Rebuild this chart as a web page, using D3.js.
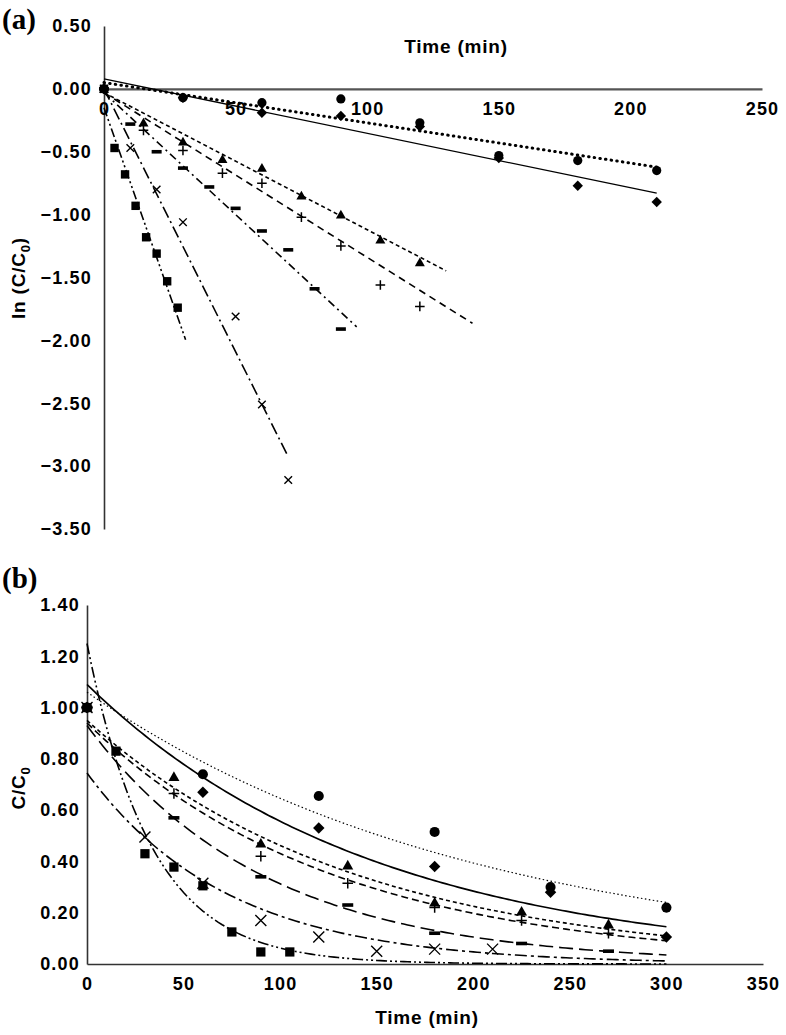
<!DOCTYPE html>
<html><head><meta charset="utf-8">
<script src="https://cdn.jsdelivr.net/npm/d3@7"></script>
<style>
body{margin:0;background:#fff;}
svg{display:block;}
.tick text{font-family:"Liberation Sans",Arial,sans-serif;font-weight:bold;font-size:18px;letter-spacing:1.2px;fill:#000;}
.title{font-family:"Liberation Sans",Arial,sans-serif;font-weight:bold;font-size:19px;letter-spacing:0.8px;fill:#000;}
.panel{font-family:"Liberation Serif","Times New Roman",serif;font-weight:bold;font-size:29px;fill:#000;}
</style></head><body>
<svg id="chart" width="786" height="1035"></svg>
<script>
// ---------- Panel (a): ln(C/C0) vs time ----------
const xTicksA = [0, 50, 100, 150, 200, 250];
const yTicksA = [0.5, 0, -0.5, -1.0, -1.5, -2.0, -2.5, -3.0, -3.5];

const tA_circle = [0, 30, 60, 90, 120, 150, 180, 210];
const lnA_circle = [0, -0.07, -0.11, -0.08, -0.27, -0.53, -0.57, -0.65];
const tA_diamond = [0, 30, 60, 90, 120, 150, 180, 210];
const lnA_diamond = [0, -0.07, -0.19, -0.215, -0.30, -0.55, -0.77, -0.90];
const tA_triangle = [0, 15, 30, 45, 60, 75, 90, 105, 120];
const lnA_triangle = [0, -0.27, -0.42, -0.56, -0.63, -0.85, -1.0, -1.2, -1.38];
const tA_plus = [0, 15, 30, 45, 60, 75, 90, 105, 120];
const lnA_plus = [0, -0.33, -0.49, -0.67, -0.75, -1.02, -1.25, -1.56, -1.73];
const tA_dash = [0, 10, 20, 30, 40, 50, 60, 70, 80, 90];
const lnA_dash = [0, -0.28, -0.50, -0.63, -0.78, -0.95, -1.13, -1.28, -1.59, -1.91];
const tA_cross = [0, 10, 20, 30, 50, 60, 70];
const lnA_cross = [0, -0.47, -0.80, -1.06, -1.81, -2.51, -3.11];
const tA_square = [0, 4, 8, 12, 16, 20, 24, 28];
const lnA_square = [0, -0.47, -0.68, -0.93, -1.18, -1.31, -1.53, -1.74];

// linear fits: [intercept, slope, tEnd]
const fitA_circle = [0.05, -0.0032, 210];
const fitA_diamond = [0.08, -0.00433, 210];
const fitA_triangle = [-0.03, -0.0109, 130];
const fitA_plus = [-0.03, -0.0131, 140];
const fitA_dash = [-0.03, -0.0194, 96];
const fitA_cross = [0.0, -0.0418, 69.5];
const fitA_square = [-0.15, -0.0595, 31];

// ---------- Panel (b): C/C0 vs time ----------
const xTicksB = [0, 50, 100, 150, 200, 250, 300, 350];
const yTicksB = [0, 0.2, 0.4, 0.6, 0.8, 1.0, 1.2, 1.4];

const tB_circle = [0, 60, 120, 180, 240, 300];
const cB_circle = [1, 0.74, 0.655, 0.515, 0.30, 0.22];
const tB_diamond = [0, 60, 120, 180, 240, 300];
const cB_diamond = [1, 0.67, 0.53, 0.38, 0.28, 0.105];
const tB_triangle = [0, 45, 90, 135, 180, 225, 270];
const cB_triangle = [1, 0.73, 0.47, 0.385, 0.24, 0.205, 0.155];
const tB_plus = [0, 45, 90, 135, 180, 225, 270];
const cB_plus = [1, 0.665, 0.42, 0.315, 0.22, 0.17, 0.12];
const tB_dash = [0, 45, 90, 135, 180, 225, 270];
const cB_dash = [1, 0.57, 0.34, 0.23, 0.12, 0.08, 0.05];
const tB_cross = [0, 30, 60, 90, 120, 150, 180, 210];
const cB_cross = [1, 0.495, 0.315, 0.17, 0.105, 0.05, 0.058, 0.058];
const tB_square = [0, 15, 30, 45, 60, 75, 90, 105];
const cB_square = [1, 0.83, 0.43, 0.378, 0.305, 0.125, 0.047, 0.047];

// exponential fits: [A, k]  (C = A * exp(-k t)), t from 0 to 300
const fitB_circle = [1.06, 0.00495];
const fitB_diamond = [1.09, 0.00672];
const fitB_triangle = [0.95, 0.0072];
const fitB_plus = [0.94, 0.0078];
const fitB_dash = [0.93, 0.0109];
const fitB_cross = [0.745, 0.0138];
const fitB_square = [1.25, 0.0300];
const fitB_tEnd = 300;

// ---------- drawing ----------
const svg = d3.select("#chart");

function marker(g, type, x, y, big) {
  const s = big ? 1.1 : 1;
  if (type === "circle") {
    g.append("circle").attr("cx", x).attr("cy", y).attr("r", 4.6 * s).attr("fill", "#000");
  } else if (type === "diamond") {
    const r = 5.2 * s;
    g.append("path").attr("d", `M${x},${y - r}L${x + r},${y}L${x},${y + r}L${x - r},${y}Z`).attr("fill", "#000");
  } else if (type === "triangle") {
    const r = 5 * s;
    g.append("path").attr("d", `M${x},${y - r}L${x + r},${y + r * 0.75}L${x - r},${y + r * 0.75}Z`).attr("fill", "#000");
  } else if (type === "square") {
    const r = 4.2 * s;
    g.append("rect").attr("x", x - r).attr("y", y - r).attr("width", 2 * r).attr("height", 2 * r).attr("fill", "#000");
  } else if (type === "plus") {
    const r = 4.8 * s;
    g.append("path").attr("d", `M${x - r},${y}H${x + r}M${x},${y - r}V${y + r}`).attr("stroke", "#000").attr("stroke-width", 1.5);
  } else if (type === "cross") {
    const r = (big ? 5.5 : 3.8);
    g.append("path").attr("d", `M${x - r},${y - r}L${x + r},${y + r}M${x - r},${y + r}L${x + r},${y - r}`).attr("stroke", "#000").attr("stroke-width", 1.4);
  } else if (type === "dash") {
    const w = 5 * s;
    g.append("rect").attr("x", x - w).attr("y", y - 1.8).attr("width", 2 * w).attr("height", 3.6).attr("fill", "#000");
  }
}

// ===== Panel (a) =====
const xA = d3.scaleLinear().domain([0, 250]).range([104, 762]);
const yA = d3.scaleLinear().domain([0.5, -3.5]).range([26, 529]);
const fmt2 = d3.format(".2f");

const gA = svg.append("g");
const yAxA = gA.append("g").attr("transform", `translate(${xA(0)},0)`)
  .call(d3.axisLeft(yA).tickValues(yTicksA).tickSize(0).tickPadding(12).tickFormat(fmt2));
yAxA.select(".domain").attr("stroke", "#333").attr("stroke-width", 1.6);
const xAxA = gA.append("g").attr("transform", `translate(0,${yA(0)})`)
  .call(d3.axisBottom(xA).tickValues(xTicksA).tickSize(0).tickPadding(13).tickFormat(d3.format("d")));
xAxA.select(".domain").attr("stroke", "#555").attr("stroke-width", 2.2);

gA.append("text").attr("class", "title").attr("x", 456).attr("y", 53).attr("text-anchor", "middle").text("Time (min)");
const ylabA = gA.append("text").attr("class", "title").attr("transform", `translate(25,278) rotate(-90)`).attr("text-anchor", "middle");
ylabA.append("tspan").text("ln (C/C");
ylabA.append("tspan").attr("font-size", "13px").attr("dy", 5).text("0");
ylabA.append("tspan").attr("dy", -5).text(")");
gA.append("text").attr("class", "panel").attr("x", 2).attr("y", 29).text("(a)");

const seriesA = [
  {type: "square", t: tA_square, v: lnA_square, fit: fitA_square, dash: "9,3,2,3,2,3", w: 1.6, cap: "butt"},
  {type: "cross", t: tA_cross, v: lnA_cross, fit: fitA_cross, dash: "12,4,2,4", w: 1.6, cap: "butt"},
  {type: "dash", t: tA_dash, v: lnA_dash, fit: fitA_dash, dash: "8,4,2,4", w: 1.6, cap: "butt"},
  {type: "plus", t: tA_plus, v: lnA_plus, fit: fitA_plus, dash: "7,5", w: 1.6, cap: "butt"},
  {type: "triangle", t: tA_triangle, v: lnA_triangle, fit: fitA_triangle, dash: "4,3", w: 1.6, cap: "butt"},
  {type: "diamond", t: tA_diamond, v: lnA_diamond, fit: fitA_diamond, dash: null, w: 1.3, cap: "butt"},
  {type: "circle", t: tA_circle, v: lnA_circle, fit: fitA_circle, dash: "0.5,5.2", w: 3, cap: "round"}
];
const lineA = d3.line().x(d => xA(d[0])).y(d => yA(d[1]));
seriesA.forEach(s => {
  const [b, m, tEnd] = s.fit;
  const pts = [[0, b], [tEnd, b + m * tEnd]];
  gA.append("path").attr("d", lineA(pts)).attr("fill", "none").attr("stroke", "#000")
    .attr("stroke-width", s.w).attr("stroke-dasharray", s.dash)
    .attr("stroke-linecap", s.cap);
});
seriesA.forEach(s => {
  const g = gA.append("g");
  s.t.forEach((t, i) => marker(g, s.type, xA(t), yA(s.v[i]), false));
});

// ===== Panel (b) =====
const xB = d3.scaleLinear().domain([0, 350]).range([87, 763]);
const yB = d3.scaleLinear().domain([0, 1.4]).range([964, 605]);
const gB = svg.append("g");
const yAxB = gB.append("g").attr("transform", `translate(${xB(0)},0)`)
  .call(d3.axisLeft(yB).tickValues(yTicksB).tickSize(0).tickPadding(7).tickFormat(fmt2));
yAxB.select(".domain").attr("stroke", "#333").attr("stroke-width", 1.6);
const xAxB = gB.append("g").attr("transform", `translate(0,${yB(0)})`)
  .call(d3.axisBottom(xB).tickValues(xTicksB).tickSize(0).tickPadding(13).tickFormat(d3.format("d")));
xAxB.select(".domain").attr("stroke", "#333").attr("stroke-width", 1.6);

gB.append("text").attr("class", "title").attr("x", 427).attr("y", 1024).attr("text-anchor", "middle").text("Time (min)");
const ylabB = gB.append("text").attr("class", "title").attr("transform", `translate(25,788) rotate(-90)`).attr("text-anchor", "middle");
ylabB.append("tspan").text("C/C");
ylabB.append("tspan").attr("font-size", "13px").attr("dy", 5).text("0");
gB.append("text").attr("class", "panel").attr("x", 2).attr("y", 588).text("(b)");

const seriesB = [
  {type: "circle", t: tB_circle, v: cB_circle, fit: fitB_circle, dash: "1.5,2.5", w: 1.2},
  {type: "diamond", t: tB_diamond, v: cB_diamond, fit: fitB_diamond, dash: null, w: 1.7},
  {type: "triangle", t: tB_triangle, v: cB_triangle, fit: fitB_triangle, dash: "4,3", w: 1.6},
  {type: "plus", t: tB_plus, v: cB_plus, fit: fitB_plus, dash: "7,4", w: 1.6},
  {type: "dash", t: tB_dash, v: cB_dash, fit: fitB_dash, dash: "14,6", w: 1.6},
  {type: "cross", t: tB_cross, v: cB_cross, fit: fitB_cross, dash: "12,4,3,4", w: 1.6},
  {type: "square", t: tB_square, v: cB_square, fit: fitB_square, dash: "11,3,2,3,2,3", w: 1.6}
];
const lineB = d3.line().x(d => xB(d[0])).y(d => yB(d[1]));
const tSample = d3.range(0, fitB_tEnd + 0.001, 2);
seriesB.forEach(s => {
  const [A, k] = s.fit;
  const pts = tSample.map(t => [t, A * Math.exp(-k * t)]);
  gB.append("path").attr("d", lineB(pts)).attr("fill", "none").attr("stroke", "#000")
    .attr("stroke-width", s.w).attr("stroke-dasharray", s.dash);
});
seriesB.forEach(s => {
  const g = gB.append("g");
  s.t.forEach((t, i) => marker(g, s.type, xB(t), yB(s.v[i]), true));
});
</script>
</body></html>
